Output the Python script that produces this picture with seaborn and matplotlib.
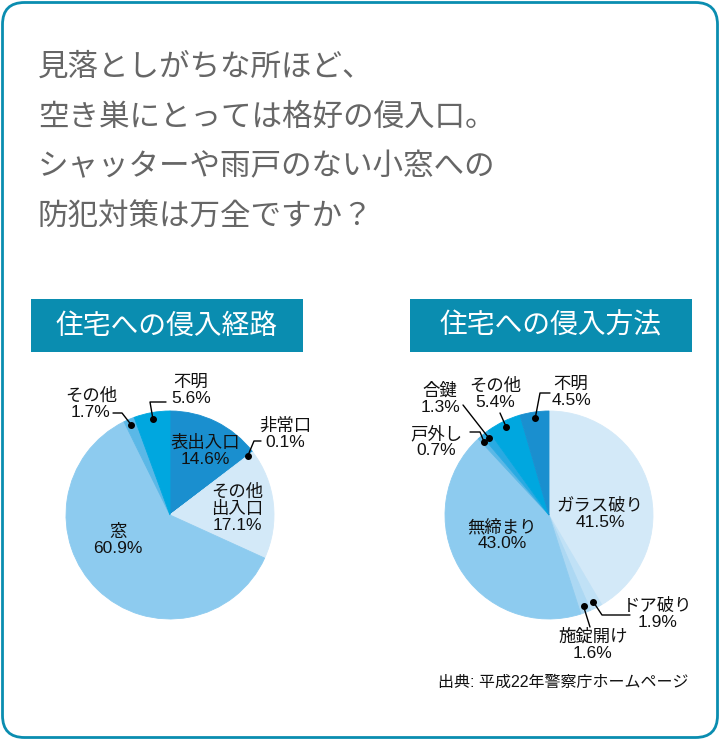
import numpy as np
import matplotlib.pyplot as plt
import seaborn as sns
from matplotlib.patches import FancyBboxPatch, Rectangle

# chart data
route_labels = ['表出入口', '非常口', 'その他\n出入口', '窓', 'その他', '不明']
route_values = [14.6, 0.1, 17.1, 60.9, 1.7, 5.6]
route_colors = ['#1a8fcf', '#b9dff5', '#d3e9f8', '#8dcbef', '#5ab8e7', '#00a7df']

method_labels = ['ガラス破り', 'ドア破り', '施錠開け', '無締まり', '戸外し', '合鍵', 'その他', '不明']
method_values = [41.5, 1.9, 1.6, 43.0, 0.7, 1.3, 5.4, 4.5]
method_colors = ['#d3e9f8', '#c0e1f6', '#acd8f3', '#8dcbef', '#5ab8e7', '#29aae2', '#00a7df', '#1a8fcf']

headline = ['見落としがちな所ほど、', '空き巣にとっては格好の侵入口。',
            'シャッターや雨戸のない小窓への', '防犯対策は万全ですか？']
chart_titles = ['住宅への侵入経路', '住宅への侵入方法']
source_note = '出典: 平成22年警察庁ホームページ'

W, H = 720, 740
TEAL = '#0a8db0'
CJK = ['Noto Sans CJK JP', 'DejaVu Sans']
LAB = ['Liberation Sans', 'Noto Sans CJK JP']


def fy(y):
    # pixel row from the top -> data y
    return H - y


def draw_pie(ax, values, labels, colors, cx, cy, r, placements):
    wedges, _ = ax.pie(values, colors=sns.color_palette(colors), startangle=90,
                       counterclock=False, center=(cx, fy(cy)), radius=r,
                       wedgeprops=dict(linewidth=0.6))
    for w in wedges:
        w.set_edgecolor(w.get_facecolor())
    for i, (tx, ty, leader) in placements.items():
        ax.text(tx, fy(ty), f'{labels[i]}\n{values[i]:.1f}%', ha='center', va='center',
                fontsize=12.5, family=LAB, color='#111111', linespacing=1.1)
        if leader is None:
            continue
        w = wedges[i]
        mid = np.deg2rad((w.theta1 + w.theta2) / 2)
        dx = cx + 0.94 * r * np.cos(mid)
        dy = fy(cy) + 0.94 * r * np.sin(mid)
        xs = [dx] + [p[0] for p in leader]
        ys = [dy] + [fy(p[1]) for p in leader]
        ax.plot(xs, ys, color='black', lw=1.0)
        ax.plot([dx], [dy], 'o', color='black', ms=4)


def main():
    sns.set_theme(style='white')
    plt.rcParams['font.family'] = CJK

    fig = plt.figure(figsize=(W / 100, H / 100), dpi=100)
    ax = fig.add_axes([0, 0, 1, 1])

    # headline
    for k, line in enumerate(headline):
        ax.text(38, fy(67 + k * 50), line, fontsize=22, color='#666666',
                va='center', ha='left', family=CJK)

    # title boxes
    for x0, x1, t in [(31, 303, chart_titles[0]), (410, 692, chart_titles[1])]:
        ax.add_patch(Rectangle((x0, fy(352)), x1 - x0, 53, color=TEAL, lw=0))
        ax.text((x0 + x1) / 2, fy(326), t, color='white', fontsize=20,
                ha='center', va='center', family=CJK)

    # left pie: intrusion route
    draw_pie(ax, route_values, route_labels, route_colors, 170, 515, 104, {
        0: (205, 451, None),
        1: (285, 434, [(254, 441), (261, 441)]),
        2: (237, 508, None),
        3: (118, 540, None),
        4: (91, 404, [(122, 413), (113, 413)]),
        5: (191, 390, [(150, 402), (166, 402)]),
    })

    # right pie: intrusion method
    draw_pie(ax, method_values, method_labels, method_colors, 549, 515, 104, {
        0: (600, 514, None),
        1: (658, 614, [(602, 615), (630, 615)]),
        2: (593, 645, [(590, 627)]),
        3: (502, 535, None),
        4: (436, 442, [(480, 432), (470, 432)]),
        5: (440, 399, [(463, 405)]),
        6: (495, 394, [(500, 413)]),
        7: (571, 392, [(540, 393), (550, 393)]),
    })

    ax.text(689, fy(682), source_note, fontsize=11.5, ha='right', va='center',
            family=LAB, color='#111111')

    # rounded frame
    ax.add_patch(FancyBboxPatch((2.5, 2.5), W - 5, H - 5,
                                boxstyle='round,pad=0,rounding_size=22',
                                fill=False, edgecolor=TEAL, lw=2.0))

    ax.set_xlim(0, W)
    ax.set_ylim(0, H)
    ax.set_aspect('equal')
    ax.axis('off')
    fig.savefig('out.png', dpi=100, facecolor='white')
    plt.close(fig)


if __name__ == '__main__':
    main()
